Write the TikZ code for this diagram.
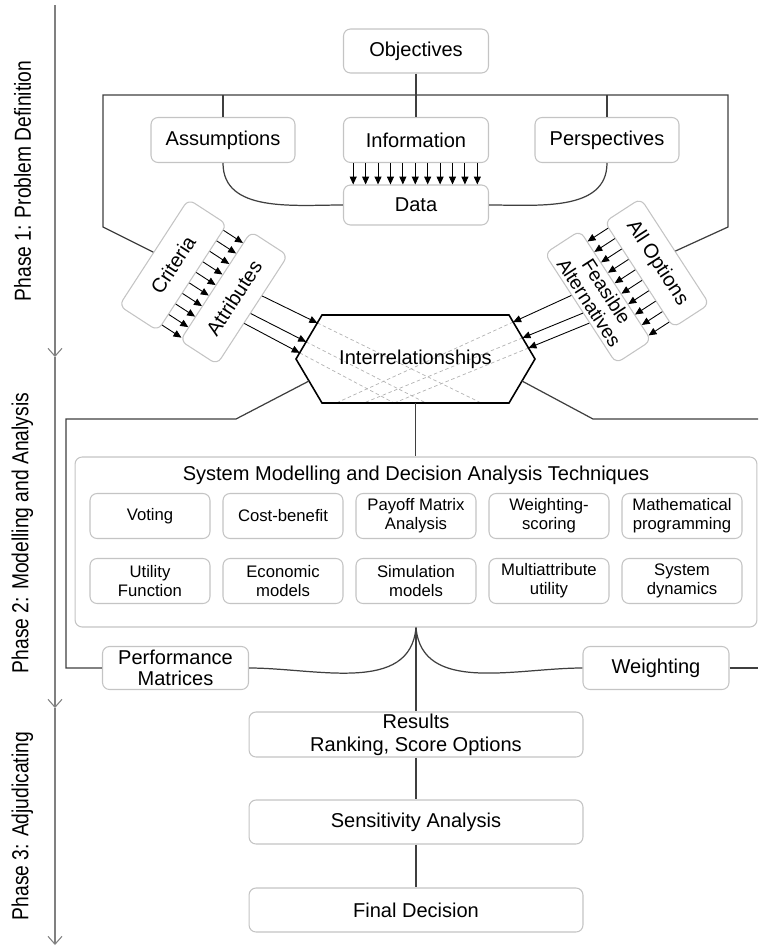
\documentclass[tikz,border=0pt]{standalone}
\usepackage{fontspec}
\setmainfont{Liberation Sans}
\newfontfamily\narrowfont[FakeStretch=0.83]{Liberation Sans}
\usetikzlibrary{arrows.meta,calc,intersections}

\definecolor{boxgray}{HTML}{C4C4C4}
\definecolor{linegray}{HTML}{3F3F3F}

\begin{document}
\begin{tikzpicture}[x=0.02cm, y=0.02cm,
    box/.style={draw=boxgray, line width=0.6pt, rounded corners=4pt, fill=white,
      align=center, inner sep=0pt, font=\fontsize{11.4}{13}\selectfont},
    tbox/.style={box, minimum width=2.4cm, minimum height=0.9cm,
      font=\fontsize{9.5}{11}\selectfont},
    link/.style={draw=linegray, line width=0.7pt},
    flow/.style={draw=black, line width=0.5pt, -{Triangle[length=4.5pt,width=4pt]}},
    hatch/.style={draw=gray!60, dash pattern=on 2pt off 1.5pt, line width=0.4pt},
    phaselbl/.style={rotate=90, inner sep=0pt, font=\narrowfont\fontsize{13.2}{15}\selectfont},
    phase/.style={draw=gray, line width=0.6pt, -{Straight Barb[length=4.5pt,width=8pt]}}]

  \useasboundingbox (0,0) rectangle (758,-950);

  % Phase axis on the left
  \coordinate (ax0) at (55,-5);
  \coordinate (ax1) at (55,-357);
  \coordinate (ax2) at (55,-708);
  \coordinate (ax3) at (55,-945);
  \draw[phase] (ax0) -- (ax1);
  \draw[phase] (ax1) -- (ax2);
  \draw[phase] (ax2) -- (ax3);
  \node[phaselbl] (ph1) at (22.5,-181) {Phase 1: Problem Definition};
  \node[phaselbl] (ph2) at (22.5,-533) {Phase 2: Modelling and Analysis};
  \node[phaselbl] (ph3) at (22.5,-826) {Phase 3: Adjudicating};

  % Phase 1 boxes
  \node[box, minimum width=2.9cm, minimum height=0.88cm] (obj) at (416,-51) {Objectives};
  \node[box, minimum width=2.88cm, minimum height=0.9cm] (ass) at (223,-140) {Assumptions};
  \node[box, minimum width=2.9cm, minimum height=0.9cm] (info) at (416,-140) {Information};
  \node[box, minimum width=2.88cm, minimum height=0.9cm] (persp) at (607,-140) {Perspectives};
  \node[box, minimum width=2.9cm, minimum height=0.8cm] (data) at (416,-205) {Data};

  \node[box, rotate=57, minimum width=2.54cm, minimum height=0.92cm] (crit) at (173,-265) {Criteria};
  \node[box, rotate=57, minimum width=2.6cm, minimum height=0.88cm] (attr) at (234,-298) {Attributes};
  \node[box, rotate=-57, minimum width=2.52cm, minimum height=0.86cm] (opt) at (657,-263) {All Options};
  \node[box, rotate=-57, minimum width=2.62cm, minimum height=0.84cm,
    font=\fontsize{11}{11.8}\selectfont] (feas) at (598,-297) {Feasible\\Alternatives};

  % Frame of lines above
  \coordinate (busL) at (103,-95);
  \coordinate (busR) at (728,-95);
  \coordinate (kneeL) at (103,-227);
  \coordinate (kneeR) at (728,-227);
  \draw[link] (crit.north) -- (kneeL) -- (busL) -- (busR) -- (kneeR) -- (opt.north);
  \draw[link] (obj) -- (info);
  \draw[link] (ass.north) -- (ass.north |- busL);
  \draw[link] (persp.north) -- (persp.north |- busL);
  \draw[link] (ass.south) to[out=-90, in=180] (data.west);
  \draw[link] (persp.south) to[out=-90, in=0] (data.east);

  % Parallel arrows
  \foreach \i in {0,...,10} {
    \coordinate (p) at ($(info.south west)!{0.07+\i*0.085}!(info.south east)$);
    \draw[flow] (p) -- (p |- data.north);
  }
  \foreach \i in {0,...,9} {
    \coordinate (p) at ($(crit.south west)!{0.06+\i*0.098}!(crit.south east)$);
    \draw[flow] (p) -- ($(attr.north west)!(p)!(attr.north east)$);
    \coordinate (q) at ($(opt.south west)!{0.06+\i*0.098}!(opt.south east)$);
    \draw[flow] (q) -- ($(feas.north west)!(q)!(feas.north east)$);
  }

  % Interrelationships hexagon
  \coordinate (hTL) at (322,-315);
  \coordinate (hTR) at (509,-315);
  \coordinate (hR) at (535,-359);
  \coordinate (hBR) at (509,-403);
  \coordinate (hBL) at (322,-403);
  \coordinate (hL) at (296,-359);
  \path[name path=hbot] (hBL) -- (hBR);
  \foreach \s/\e [count=\k] in {0.63/0.18, 0.47/0.61, 0.38/0.86} {
    \coordinate (la\k) at ($(attr.south west)!\s!(attr.south east)$);
    \coordinate (lb\k) at ($(hTL)!\e!(hL)$);
    \path[name path=ray] (la\k) -- ($(la\k)!6!(lb\k)$);
    \draw[hatch, name intersections={of=ray and hbot, by=lc}] (lb\k) -- (lc);
    \draw[flow] (la\k) -- (lb\k);
  }
  \foreach \s/\e [count=\k] in {0.38/0.16, 0.54/0.52, 0.63/0.75} {
    \coordinate (ra\k) at ($(feas.south west)!\s!(feas.south east)$);
    \coordinate (rb\k) at ($(hTR)!\e!(hR)$);
    \path[name path=ray] (ra\k) -- ($(ra\k)!6!(rb\k)$);
    \draw[hatch, name intersections={of=ray and hbot, by=rc}] (rb\k) -- (rc);
    \draw[flow] (ra\k) -- (rb\k);
  }
  \draw[line width=0.9pt] (hTL) -- (hTR) -- (hR) -- (hBR) -- (hBL) -- (hL) -- cycle;
  \node[font=\fontsize{11.4}{13}\selectfont] (inter) at (415.5,-359) {Interrelationships};

  % Phase 2 techniques
  \node[box, minimum width=13.64cm, minimum height=3.4cm] (tech) at (416,-542) {};
  \node[font=\fontsize{11.4}{13}\selectfont] (techttl) at (416,-475)
    {System Modelling and Decision Analysis Techniques};
  \foreach \txt [count=\k] in {Voting, Cost-benefit, Payoff Matrix\\Analysis,
      Weighting-\\scoring, Mathematical\\programming}
    \node[tbox] (ta\k) at (17+\k*133,-516) {\txt};
  \foreach \txt [count=\k] in {Utility\\Function, Economic\\models, Simulation\\models,
      Multiattribute\\utility, System\\dynamics}
    \node[tbox] (tb\k) at (17+\k*133,-581) {\txt};

  \coordinate (hB) at ($(hBL)!0.5!(hBR)$);
  \draw[link] (hB) -- (hB |- tech.north);

  \node[box, minimum width=2.92cm, minimum height=0.86cm,
    font=\fontsize{11.4}{12.2}\selectfont] (perf) at (175.5,-668) {Performance\\Matrices};
  \node[box, minimum width=2.92cm, minimum height=0.86cm] (wgt) at (656,-668) {Weighting};

  \coordinate (bendL) at (236,-419);
  \coordinate (cornL) at (66,-419);
  \coordinate (footL) at (66,-668);
  \coordinate (bendR) at (593,-419);
  \coordinate (edgeR) at (758,-419);
  \coordinate (edgeW) at (758,-668);
  \draw[link] ($(hL)!0.5!(hBL)$) -- (bendL) -- (cornL) -- (footL) -- (perf.west);
  \draw[link] ($(hR)!0.5!(hBR)$) -- (bendR) -- (edgeR);
  \draw[link] (wgt.east) -- (edgeW);
  \draw[link] (tech.south) to[out=-95, in=0] (perf.east);
  \draw[link] (tech.south) to[out=-85, in=180] (wgt.west);

  % Phase 3
  \node[box, minimum width=6.68cm, minimum height=0.9cm] (res) at (416,-734.5) {Results\\Ranking, Score Options};
  \node[box, minimum width=6.68cm, minimum height=0.88cm] (sens) at (416,-822) {Sensitivity Analysis};
  \node[box, minimum width=6.68cm, minimum height=0.88cm] (fin) at (416,-910) {Final Decision};
  \draw[link] (tech.south) -- (res.north);
  \draw[link] (res) -- (sens);
  \draw[link] (sens) -- (fin);
\end{tikzpicture}
\end{document}
